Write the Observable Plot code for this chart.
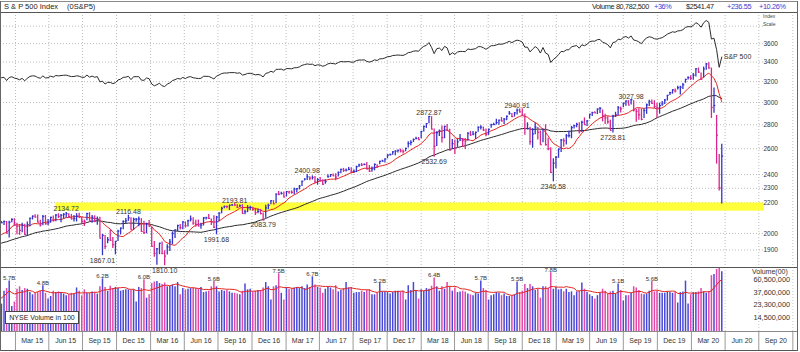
<!DOCTYPE html>
<html><head><meta charset="utf-8">
<script src="https://cdn.jsdelivr.net/npm/d3@7"></script>
<script src="https://cdn.jsdelivr.net/npm/@observablehq/plot@0.6"></script>
<style>
html,body{margin:0;padding:0;background:#fff;}
#chart{position:relative;width:800px;height:352px;overflow:hidden;background:#fff;font-family:"Liberation Sans",Arial,sans-serif;color:#222;}
.layer{position:absolute;left:0;}
.layer svg{display:block;overflow:visible;background:transparent;}
.hl{position:absolute;left:0;width:798px;height:1px;}
.vl{position:absolute;top:1px;width:1px;height:350px;}
.hdr{position:absolute;top:1px;line-height:11px;font-size:7.5px;white-space:nowrap;}
.hdr.r{font-size:7.3px;letter-spacing:-0.35px;}
.blue{color:#3a3ad6;}
.tiny{position:absolute;left:763px;font-size:5px;line-height:6px;color:#444;}
#volbox{position:absolute;left:5px;top:311px;width:72px;height:11px;border:1px solid #444;background:#fff;font-size:7px;line-height:11px;text-align:center;}
</style></head>
<body><div id="chart"></div>
<script>
// ---------- data (weekly, S&P 500) ----------
const firstWeek = "2014-11-17"; // Monday of the first displayed week (week ending 2014-11-21)
// closes of the 40 weeks before the first displayed week (for the moving averages)
const priorCloses = [1838.63,1836.25,1859.45,1878.04,1841.13,1866.52,1857.62,1865.09,1815.69,1864.85,
  1863.40,1881.14,1878.48,1877.86,1900.53,1923.57,1949.44,1936.16,1962.87,1960.96,
  1985.44,1967.57,1978.22,1978.34,1925.15,1931.59,1955.06,1988.40,2003.37,2007.71,
  1985.54,2010.40,1982.85,1967.90,1906.13,1886.76,1964.58,2018.05,2031.92,2039.82];
const closes = [
  2063.50,2067.56,2075.37,2002.33,2070.65,2088.77,
  2058.20,2044.81,2019.42,2051.82,1994.99, 2055.47,2096.99,2110.30,2104.50, 2071.26,2053.40,2108.10,2061.02, 2066.96,2102.06,2081.18,2117.69, 2108.29,2116.10,2122.73,2126.06,2107.39, 2092.83,2094.11,2109.99,2101.49, 2076.78,2076.62,2126.64,2079.65,2103.84, 2077.57,2091.54,1970.89,1988.87, 1921.22,1961.05,1958.03,1931.34, 1951.36,2014.89,2033.11,2075.15,2079.36, 2099.20,2023.04,2089.17,2090.11, 2091.69,2012.37,2005.55,2060.99,
  2043.94,1922.03,1880.33,1906.90,1940.24, 1880.05,1864.78,1917.78,1948.05, 1999.99,2022.19,2049.58,2035.94, 2072.78,2047.60,2080.73,2091.58,2065.30, 2057.14,2046.61,2052.32,2099.06, 2099.13,2096.07,2071.22,2037.41, 2102.95,2129.90,2161.74,2175.03,2173.60, 2182.87,2184.05,2183.87,2169.04, 2179.98,2127.81,2139.16,2164.69,2168.27, 2153.74,2132.98,2141.16,2126.41, 2085.18,2164.45,2181.90,2213.35, 2191.95,2259.53,2258.07,2263.79,2238.83,
  2276.98,2274.64,2271.31,2294.69, 2297.42,2316.10,2351.16,2367.34, 2383.12,2372.60,2378.25,2343.98,2362.72, 2355.54,2328.95,2348.69,2384.20, 2399.29,2390.90,2381.73,2415.82, 2439.07,2431.77,2433.15,2438.30,2423.41, 2425.18,2459.27,2472.54,2472.10, 2476.83,2441.32,2425.55,2443.05, 2476.55,2461.43,2500.23,2502.22,2519.36, 2549.33,2553.17,2575.21,2581.07, 2587.84,2582.30,2578.85,2602.42, 2642.22,2651.50,2675.81,2683.34,2673.61,
  2743.15,2786.24,2810.30,2872.87, 2762.13,2619.55,2732.22,2747.30, 2691.25,2786.57,2752.01,2588.26,2640.87, 2604.47,2656.30,2670.14,2669.91, 2663.42,2727.72,2712.97,2721.33, 2734.62,2779.03,2779.66,2754.88,2718.37, 2759.82,2801.31,2801.83,2818.82, 2840.35,2833.28,2850.13,2874.69,2901.52, 2871.68,2904.98,2929.67,2913.98, 2885.57,2767.13,2767.78,2658.69, 2723.06,2781.01,2736.27,2632.56,2760.17, 2633.08,2599.95,2416.62,2485.74,
  2531.94,2596.26,2670.71,2664.76, 2706.53,2707.88,2775.60,2792.67, 2803.69,2743.07,2822.48,2800.71,2834.40, 2892.74,2907.41,2905.03,2939.88, 2945.64,2881.40,2859.53,2826.06,2752.06, 2873.34,2886.98,2950.46,2941.76, 2990.41,3013.77,2976.61,3025.86, 2932.05,2918.65,2888.68,2847.11,2926.46, 2978.71,3007.39,2992.07,2961.79, 2952.01,2970.27,2986.20,3022.55, 3066.91,3093.08,3120.46,3110.29,3140.98, 3145.91,3168.80,3221.22,3240.02,
  3234.85,3265.35,3329.62,3295.47,3225.52, 3327.71,3380.16,3337.75,2954.22, 2972.37,2711.02,2304.92,2541.47];
const highs = [
  2071.46,2075.76,2079.47,2075.78,2077.85,2093.55,
  2093.00,2064.43,2056.93,2064.62,2057.62, 2072.40,2097.03,2110.61,2119.59, 2117.52,2083.49,2114.86,2114.12, 2088.97,2102.61,2111.91,2120.92, 2125.92,2120.95,2126.75,2134.72,2126.22, 2121.92,2115.02,2126.65,2129.87, 2102.01,2085.67,2128.57,2132.82,2114.24, 2112.66,2105.35,2102.48,1993.48, 1986.72,1975.01,2020.86,1974.80, 1951.36,2020.13,2033.54,2079.74,2094.32, 2116.48,2099.20,2097.06,2094.12, 2104.27,2093.84,2076.72,2064.73,
  2081.56,2038.20,1950.33,1908.85,1940.24, 1947.20,1895.77,1930.68,1962.96, 2009.13,2022.37,2052.36,2056.60, 2074.02,2072.65,2083.06,2111.05,2099.89, 2083.42,2084.87,2064.15,2100.73, 2103.48,2120.55,2091.10,2113.32, 2108.71,2131.71,2169.05,2175.63,2177.09, 2182.87,2188.45,2193.81,2187.94, 2184.87,2186.57,2149.19,2179.99,2175.30, 2169.60,2161.56,2156.85,2154.79, 2131.22,2182.30,2189.89,2213.35, 2214.10,2259.53,2277.53,2272.56,2273.82,
  2277.51,2279.27,2282.10,2300.99, 2298.31,2319.23,2351.31,2368.26, 2400.98,2383.89,2390.01,2385.71,2370.35, 2378.36,2361.74,2361.37,2398.16, 2399.29,2403.87,2405.77,2418.71, 2440.23,2446.20,2442.55,2453.82,2450.42, 2434.15,2463.54,2477.62,2484.04, 2480.38,2490.87,2468.22,2456.22, 2480.00,2475.00,2500.23,2508.85,2519.44, 2552.51,2557.65,2575.44,2582.98, 2588.42,2597.02,2590.09,2604.21, 2657.74,2665.19,2679.63,2694.97,2692.12,
  2743.45,2787.85,2810.33,2872.87, 2870.62,2763.39,2739.69,2754.42, 2789.15,2786.57,2801.90,2761.85,2674.78, 2672.08,2680.26,2717.49,2682.86, 2682.92,2732.86,2742.24,2742.94, 2736.93,2779.90,2791.47,2780.17,2764.17, 2763.40,2804.53,2814.19,2848.03, 2840.38,2863.43,2855.63,2876.16,2916.50, 2900.18,2908.30,2940.91,2939.86, 2939.86,2894.83,2816.94,2778.94, 2766.28,2815.15,2775.99,2746.75,2760.88, 2800.18,2685.44,2607.10,2520.27,
  2538.07,2597.82,2675.47,2681.83, 2716.66,2744.27,2785.82,2795.82, 2813.49,2816.88,2830.73,2860.31,2836.03, 2893.42,2910.54,2916.06,2939.88, 2954.13,2931.68,2892.15,2871.58,2840.51, 2884.99,2910.61,2964.15,2958.06, 2995.84,3013.92,3017.80,3027.98, 3017.40,2938.72,2943.31,2939.08,2940.43, 2985.86,3021.99,3022.39,3016.31, 2993.28,2993.28,3008.29,3027.39, 3066.95,3097.77,3120.46,3127.64,3154.26, 3154.26,3182.68,3225.65,3247.93,
  3258.14,3282.99,3329.88,3337.77,3285.91, 3347.96,3385.09,3393.52,3337.08, 3136.72,2882.59,2553.93,2637.01];
const lows = [
  2040.49,2064.75,2049.57,2002.33,1972.56,2066.97,
  2046.04,1992.44,1988.12,2004.49,1989.18, 1980.90,2041.88,2085.44,2098.26, 2067.27,2039.69,2047.62,2052.00, 2048.38,2063.67,2072.02,2073.30, 2094.27,2067.93,2091.17,2099.18,2099.14, 2085.67,2072.14,2072.49,2097.45, 2056.32,2044.02,2080.93,2077.85,2063.52, 2067.91,2052.09,1970.89,1867.01, 1903.07,1937.77,1953.03,1908.77, 1871.91,1951.36,1990.73,2022.53,2058.84, 2076.07,2022.87,2019.39,2070.29, 2042.35,2008.88,1993.26,1998.03,
  2043.62,1918.46,1857.83,1812.29,1872.70, 1872.65,1810.10,1871.44,1891.00, 1931.81,1969.25,2010.14,2022.05, 2022.49,2033.80,2039.74,2072.87,2052.28, 2039.45,2043.13,2025.91,2047.26, 2085.05,2088.59,2050.37,2032.57, 1991.68,2074.02,2125.71,2159.01,2159.74, 2147.58,2175.63,2178.27,2160.39, 2167.50,2127.81,2119.12,2133.04,2145.04, 2142.63,2114.72,2125.55,2119.36, 2083.79,2097.00,2151.79,2186.42, 2187.44,2192.88,2248.44,2253.59,2233.62,
  2238.96,2258.41,2258.86,2254.62, 2267.21,2288.88,2312.31,2352.87, 2356.73,2354.54,2359.51,2336.90,2322.25, 2344.73,2322.35,2328.95,2374.30, 2378.67,2387.16,2353.81,2381.73, 2405.70,2415.70,2419.38,2428.52,2405.70, 2407.70,2415.11,2452.91,2459.93, 2466.48,2437.75,2417.35,2417.35, 2428.20,2446.55,2474.52,2495.12,2488.03, 2520.40,2542.73,2547.92,2544.00, 2566.17,2566.33,2557.45,2576.20, 2605.18,2624.75,2650.62,2673.61,2673.61,
  2682.36,2737.60,2768.64,2808.12, 2759.97,2532.69,2617.23,2699.83, 2647.32,2681.09,2741.38,2585.89,2593.06, 2553.80,2610.79,2660.02,2612.67, 2594.62,2660.90,2701.91,2707.38, 2676.81,2735.78,2755.18,2741.91,2698.95, 2709.72,2770.36,2793.23,2799.22, 2795.14,2825.82,2802.49,2835.96,2884.69, 2864.12,2867.29,2886.93,2903.28, 2874.27,2710.51,2755.10,2628.16, 2603.54,2714.40,2670.75,2631.09,2649.44, 2621.53,2583.23,2408.55,2346.58,
  2443.96,2524.56,2569.28,2612.86, 2631.05,2687.26,2681.83,2764.55, 2775.13,2722.27,2734.97,2800.18,2785.02, 2848.63,2873.28,2900.71,2889.71, 2900.50,2825.39,2801.43,2805.49,2750.52, 2728.81,2863.68,2880.61,2904.06, 2952.22,2966.46,2975.31,2977.93, 2914.11,2822.12,2840.53,2834.97,2856.09, 2891.85,2964.15,2985.61,2945.23, 2855.96,2892.94,2964.93,2981.91, 3014.47,3066.48,3078.34,3089.48,3117.43, 3070.33,3124.09,3183.76,3216.03,
  3212.03,3214.64,3246.15,3281.53,3214.68, 3235.53,3315.19,3328.45,2855.84, 2901.54,2478.86,2280.52,2191.86];
// NYSE volume, billions of shares per bar
const volumes = [
  3.6,2.4,3.9,4.3,5.7,2.2,
  2.6,4.2,4.6,4.0,4.3, 4.2,3.7,3.4,3.6, 3.7,3.9,4.8,3.6, 2.9,3.2,3.9,3.7, 3.8,3.7,3.5,3.3,3.4, 3.6,3.5,4.4,3.9, 3.3,4.1,3.6,3.6,3.8, 3.7,3.5,4.6,6.2, 4.5,3.9,4.7,4.3, 4.5,4.3,3.9,4.0,4.1, 4.1,4.0,4.1,2.6, 4.5,4.3,6.0,3.0,
  3.4,5.2,5.5,5.6,5.2, 5.0,5.3,4.6,4.7, 4.9,4.6,5.4,3.4, 4.3,4.1,4.2,4.3,4.4, 4.3,4.2,4.5,3.7, 3.8,3.9,4.6,5.6, 4.6,3.8,4.0,3.9,4.0, 3.8,3.6,3.6,3.5, 3.4,3.9,5.1,4.1,4.2, 3.8,3.9,4.0,4.0, 4.4,5.4,4.6,2.8, 4.6,4.8,7.5,3.6,2.8,
  4.4,4.2,4.3,4.4, 4.5,4.3,4.6,4.3, 4.9,4.5,6.7,4.9,4.5, 4.4,3.6,4.2,4.6, 4.4,4.1,4.8,3.8, 4.0,4.3,5.4,4.4,4.5, 3.6,3.7,3.7,3.9, 3.7,4.0,4.1,3.4, 3.4,3.6,5.2,3.8,3.8, 3.7,3.5,3.7,3.9, 3.9,3.8,3.9,2.8, 4.8,4.0,5.4,4.0,2.9,
  4.1,3.9,4.3,4.2, 4.7,6.4,4.6,3.9, 4.6,4.2,5.4,4.6,3.9, 4.4,3.7,3.8,3.9, 3.8,3.5,3.4,3.3, 3.6,3.5,5.7,4.3,4.0, 2.8,3.3,3.4,3.7, 3.6,3.3,3.5,3.2,3.2, 3.3,3.4,5.5,3.7, 3.9,5.0,4.3,5.0, 4.6,4.0,4.2,3.0,4.6, 4.6,4.3,7.8,4.2,
  4.5,4.1,4.2,3.8, 4.2,3.7,3.8,3.3, 3.8,3.9,5.3,4.2,3.7, 3.4,3.2,2.9,3.3, 3.6,4.2,3.9,3.5,3.8, 3.9,3.5,5.1,4.0, 2.7,3.3,3.3,3.6, 4.6,4.4,4.0,3.5,3.4, 3.5,3.9,5.6,3.8, 3.9,3.6,3.6,3.6, 3.8,3.7,3.6,3.7,2.5, 3.7,3.8,5.7,2.4,
  3.4,3.7,3.7,3.8,4.3, 3.8,3.6,3.8,7.0, 7.3,8.8,9.8,8.07825];
const volumeChangePct = 36;
const priceTicks = [1900,2000,2200,2300,2400,2600,2800,3000,3200,3400,3600];
const priceGrid = [1900,2000,2200,2300,2400,2600,2800,3000,3200,3400,3600,3800];
const volumeTicks = [60500000,37600000,23300000,14500000]; // in hundreds of shares
const quarterLabels = ["Mar 15","Jun 15","Sep 15","Dec 15","Mar 16","Jun 16","Sep 16","Dec 16",
  "Mar 17","Jun 17","Sep 17","Dec 17","Mar 18","Jun 18","Sep 18","Dec 18",
  "Mar 19","Jun 19","Sep 19","Dec 19","Mar 20","Jun 20","Sep 20"];
const highNotes = [26,50,91,119,166,200,244];   // weeks whose high is labelled
const lowNotes = [40,64,84,102,168,214,237];    // weeks whose low is labelled
const volumeNotes = [4,17,40,56,83,108,121,147,168,186,200,213,239,252];
const supportZone = [2143, 2198];
const supportStart = "2015-04-20";

// ---------- layout helpers ----------
const FONT = '"Liberation Sans", Arial, sans-serif';
const DAY = 864e5;
const t0 = Date.parse(firstWeek + "T00:00:00Z");
const weekDate = i => new Date(t0 + i * 7 * DAY);
const xDomain = [new Date("2014-11-21T12:00:00Z"), new Date("2020-10-21T16:00:00Z")];
const scaleColumnStart = new Date("2020-07-16T00:00:00Z");
const blue = "#3333cc", magenta = "#d8268c";
const vBlue = "#4848d8", vPink = "#e248a8";

const weeks = closes.map((c, i) => ({
  date: weekDate(i), close: c, high: highs[i], low: lows[i], volume: volumes[i],
  up: c >= (i ? closes[i - 1] : priorCloses[priorCloses.length - 1])
}));
const history = priorCloses.map((c, i) => ({date: weekDate(i - priorCloses.length), close: c}))
  .concat(weeks.map(d => ({date: d.date, close: d.close})));
const quarterStarts = d3.utcMonth.range(new Date("2015-01-01T00:00:00Z"), new Date("2020-10-02T00:00:00Z"), 3);
const quarterMids = quarterLabels.map((t, i) => ({t, x: new Date((+quarterStarts[i] + +quarterStarts[i + 1]) / 2)}));
const f2 = d3.format(".2f");
const xOpt = {type: "utc", domain: xDomain, axis: null};
const svgStyle = {background: "transparent", overflow: "visible", fontFamily: FONT};

const chart = document.getElementById("chart");
function place(node, top) {
  const div = document.createElement("div");
  div.className = "layer"; div.style.top = top + "px";
  div.appendChild(node); chart.appendChild(div);
}

// ---------- price panel ----------
const pricePlot = Plot.plot({
  width: 800, height: 255, marginTop: 0, marginRight: 0, marginBottom: 0, marginLeft: 0,
  style: svgStyle,
  x: xOpt,
  y: {type: "log", domain: [1800, 3964], axis: null},
  marks: [
    Plot.ruleX(quarterStarts, {stroke: "#bdbdbd", strokeDasharray: "1,2"}),
    Plot.ruleY(priceGrid, {y: d => d, x1: () => xDomain[0], x2: () => scaleColumnStart, stroke: "#bdbdbd", strokeDasharray: "1,2"}),
    Plot.rect([supportZone], {x1: () => new Date(supportStart), x2: () => scaleColumnStart, y1: d => d[0], y2: d => d[1], fill: "#ffff3a"}),
    Plot.lineY(history, Plot.windowY({k: 40, anchor: "end"}, {x: "date", y: "close", stroke: "#2a2a2a", strokeWidth: 1, clip: true})),
    Plot.lineY(history, Plot.windowY({k: 10, anchor: "end"}, {x: "date", y: "close", stroke: "#e3261f", strokeWidth: 1, clip: true})),
    Plot.ruleX(weeks, {filter: d => d.up, x: "date", y1: "low", y2: "high", stroke: blue, strokeWidth: 1.3, clip: true}),
    Plot.ruleX(weeks, {filter: d => !d.up, x: "date", y1: "low", y2: "high", stroke: magenta, strokeWidth: 1.3, clip: true}),
    Plot.ruleY(weeks, {filter: d => d.up, y: "close", x1: "date", x2: d => new Date(+d.date + 5 * DAY), stroke: blue, strokeWidth: 1.2, clip: true}),
    Plot.ruleY(weeks, {filter: d => !d.up, y: "close", x1: "date", x2: d => new Date(+d.date + 5 * DAY), stroke: magenta, strokeWidth: 1.2, clip: true}),
    Plot.text(highNotes.map(i => weeks[i]), {x: "date", y: "high", text: d => f2(d.high), lineAnchor: "bottom", dy: -1, fontSize: 7, fill: "#333"}),
    Plot.text(lowNotes.map(i => weeks[i]), {x: "date", y: "low", text: d => f2(d.low), lineAnchor: "top", dy: 2, fontSize: 7, fill: "#333"}),
    Plot.text(priceTicks, {y: d => d, text: d => String(d), frameAnchor: "right", textAnchor: "start", dx: -37, fontSize: 6.5, fill: "#333"})
  ]
});
place(pricePlot, 12);

// ---------- S&P 500 index line (index scale) ----------
const lastWeek = weeks[weeks.length - 1];
const indexPlot = Plot.plot({
  width: 800, height: 88, marginTop: 0, marginRight: 0, marginBottom: 0, marginLeft: 0,
  style: svgStyle,
  x: xOpt,
  y: {type: "linear", domain: [1543.5, 3563.7], axis: null},
  marks: [
    Plot.line(history, {x: "date", y: "close", stroke: "#2b2b2b", strokeWidth: 1, clip: true}),
    Plot.text([lastWeek], {x: "date", y: "close", text: () => "S&P 500", textAnchor: "start", dx: 2, fontSize: 7, fill: "#333"})
  ]
});
place(indexPlot, 12);

// ---------- volume panel ----------
const vMin = 0.857;
const volPlot = Plot.plot({
  width: 800, height: 64, marginTop: 0, marginRight: 0, marginBottom: 0, marginLeft: 0,
  style: svgStyle,
  x: xOpt,
  y: {type: "log", domain: [vMin, 9.5], axis: null},
  marks: [
    Plot.ruleX(quarterStarts, {stroke: "#c8c8c8", strokeDasharray: "1,2"}),
    Plot.ruleX(weeks, {filter: d => d.up, x: "date", y1: () => vMin, y2: "volume", stroke: vBlue, strokeWidth: 1.5, clip: true}),
    Plot.ruleX(weeks, {filter: d => !d.up, x: "date", y1: () => vMin, y2: "volume", stroke: vPink, strokeWidth: 1.5, clip: true}),
    Plot.lineY(weeks, Plot.windowY({k: 10, anchor: "end"}, {x: "date", y: "volume", stroke: "#e3261f", strokeWidth: 1})),
    Plot.text(volumeNotes.map(i => weeks[i]), {x: "date", y: "volume", text: d => d.volume.toFixed(1) + "B", lineAnchor: "bottom", dy: -1, fontSize: 6, fill: "#333"}),
    Plot.text(volumeTicks, {y: d => d / 1e7, text: d => d3.format(",")(d), frameAnchor: "right", textAnchor: "start", dx: -47, fontSize: 7.3, fill: "#333"})
  ]
});
place(volPlot, 267);

// ---------- date axis ----------
const axisPlot = Plot.plot({
  width: 800, height: 19, marginTop: 0, marginRight: 0, marginBottom: 0, marginLeft: 0,
  style: svgStyle,
  x: xOpt,
  marks: [
    Plot.ruleX(quarterStarts, {stroke: "#9a9a9a"}),
    Plot.text(quarterMids, {x: "x", text: "t", fontSize: 7, fill: "#333"})
  ]
});
place(axisPlot, 331);

// ---------- frame, header and labels ----------
function line(cls, style) { const d = document.createElement("div"); d.className = cls; d.setAttribute("style", style); chart.appendChild(d); }
line("hl", "top:1px;background:#8a8a8a");
line("hl", "top:12px;background:#555");
line("hl", "top:267px;background:#555");
line("hl", "top:331px;background:#8a8a8a");
line("hl", "top:350px;background:#555");
line("vl", "left:0;background:#666");
line("vl", "left:797px;background:#666");

function label(html, cls, style) { const d = document.createElement("div"); d.className = cls; d.setAttribute("style", style); d.innerHTML = html; chart.appendChild(d); }
const prevWeek = weeks[weeks.length - 2];
const chg = lastWeek.close - prevWeek.close;
label("S &amp; P 500 Index", "hdr", "left:4px");
label("(0S&amp;P5)", "hdr", "left:67px");
label("Volume " + d3.format(",")(Math.round(lastWeek.volume * 1e7)), "hdr r", "left:592px");
label("+" + volumeChangePct + "%", "hdr r blue", "left:654px");
label("$" + f2(lastWeek.close), "hdr r", "left:686px");
label("+" + f2(chg), "hdr r blue", "left:727px");
label("+" + f2(chg / prevWeek.close * 100) + "%", "hdr r blue", "left:759px");
label("Index", "tiny", "top:13px");
label("Scale", "tiny", "top:21px");
label("Volume(00)", "tiny", "top:268px;left:752px;font-size:7px;line-height:8px;color:#333");
label("NYSE Volume in 100", "", "");
chart.lastChild.id = "volbox";
</script>
</body></html>
